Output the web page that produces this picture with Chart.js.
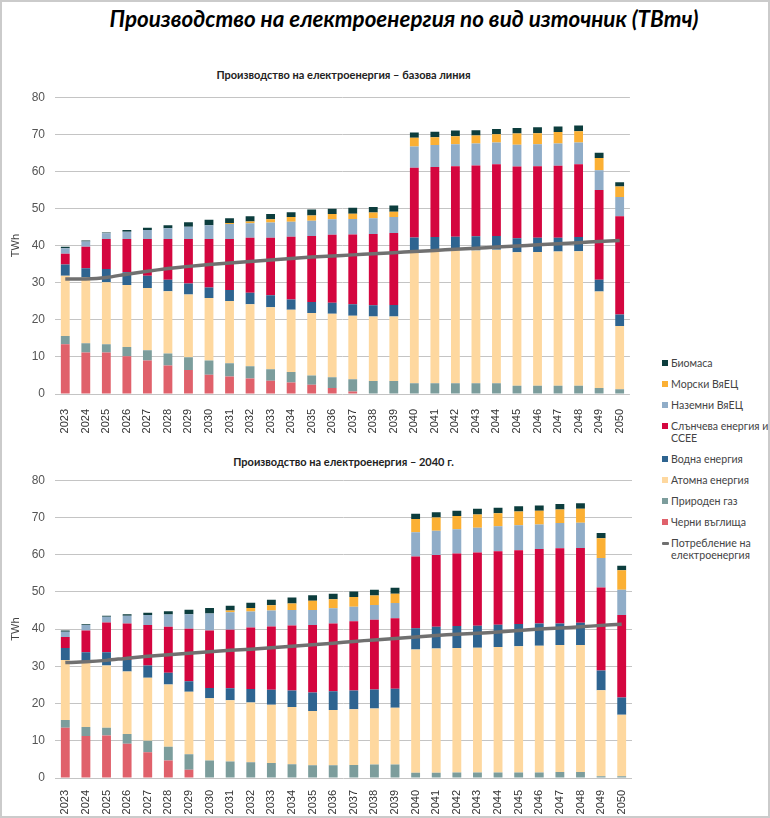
<!DOCTYPE html>
<html>
<head>
<meta charset="utf-8">
<script src="https://cdn.jsdelivr.net/npm/chart.js@4.4.1/dist/chart.umd.min.js"></script>
<style>
  html, body { margin: 0; padding: 0; background: #fff; }
  body { position: relative; width: 770px; height: 818px; overflow: hidden; font-family: Lato, "Noto Sans", sans-serif; }
  .frame { position: absolute; left: 0; top: 0; width: 770px; height: 818px; box-sizing: border-box; border: 2px solid #cbcbcb; pointer-events: none; }
  .title { position: absolute; left: 0; width: 808px; top: 5px; text-align: center; font-size: 22.4px; font-weight: bold; font-style: italic; color: #000; }
  .sub { position: absolute; left: 55px; width: 577px; text-align: center; font-size: 11px; font-weight: bold; color: #222; }
  canvas { position: absolute; left: 0; }
  .legend { position: absolute; left: 662px; top: 357px; width: 112px; font-size: 10.6px; color: #444; line-height: 12px; }
  .legend div { position: relative; padding-left: 9px; margin-bottom: 9px; }
  .legend span { position: absolute; left: 0; top: 3px; width: 6px; height: 6px; }
  .legend span.ln { top: 5px; width: 7px; height: 3px; border-radius: 1px; }
</style>
</head>
<body>
<div class="title">Производство на електроенергия по вид източник (ТВтч)</div>
<div class="sub" style="top:68px">Производство на електроенергия – базова линия</div>
<div class="sub" style="top:455px">Производство на електроенергия – 2040 г.</div>
<canvas id="chartBase" width="640" height="360" style="top:80px"></canvas>
<canvas id="chart2040" width="640" height="353" style="top:463px"></canvas>
<div class="legend" id="legend"></div>
<div class="frame"></div>
<script>
const years = [2023, 2024, 2025, 2026, 2027, 2028, 2029, 2030, 2031, 2032, 2033, 2034, 2035, 2036,
  2037, 2038, 2039, 2040, 2041, 2042, 2043, 2044, 2045, 2046, 2047, 2048, 2049, 2050];

const sourceLabels = ['Черни въглища', 'Природен газ', 'Атомна енергия', 'Водна енергия',
  'Слънчева енергия и ССЕЕ', 'Наземни ВяЕЦ', 'Морски ВяЕЦ', 'Биомаса'];
const sourceColors = ['#e0616b', '#7c9d9c', '#fed89f', '#2e6490', '#d4063f', '#90adc8', '#fbb034', '#0c3d3d'];
const consumptionLabel = 'Потребление на електроенергия';

// базова линия, TWh
const coalBase = [13.4, 11.2, 11.2, 10.2, 9.0, 7.7, 6.5, 5.2, 4.7, 4.2, 3.6, 3.1, 2.5, 1.6,
  0.7, 0, 0, 0, 0, 0, 0, 0, 0, 0, 0, 0, 0, 0];
const gasBase = [2.2, 2.5, 2.2, 2.5, 2.8, 3.2, 3.4, 3.8, 3.6, 3.3, 3.1, 2.8, 2.5, 2.9,
  3.3, 3.5, 3.5, 2.9, 2.9, 2.9, 2.9, 2.9, 2.2, 2.2, 2.2, 2.2, 1.6, 1.3];
const nuclearBase = [16.3, 17.7, 16.7, 16.7, 16.8, 16.8, 16.9, 16.9, 16.8, 16.7, 16.7, 16.8, 16.8, 17.1,
  17.1, 17.4, 17.4, 35.4, 36.1, 36.3, 35.8, 36.0, 36.0, 36.1, 36.2, 36.3, 26.0, 17.0];
const hydroBase = [3.0, 2.5, 3.6, 3.4, 3.3, 3.1, 3.0, 2.8, 2.9, 3.1, 3.2, 2.8, 3.0, 3.0,
  3.1, 3.0, 3.1, 3.9, 3.3, 3.2, 3.8, 3.7, 3.8, 3.8, 3.7, 3.8, 3.2, 3.1];
const solarBase = [2.9, 5.8, 8.1, 9.0, 9.9, 11.0, 12.0, 13.1, 13.8, 14.8, 15.5, 16.9, 17.8, 18.3,
  18.8, 19.2, 19.4, 18.8, 18.9, 19.0, 19.1, 19.3, 19.3, 19.3, 19.4, 19.6, 24.2, 26.5];
const onshoreBase = [1.5, 1.4, 1.5, 1.9, 2.4, 2.9, 3.3, 3.7, 4.0, 3.9, 4.1, 4.0, 4.1, 4.2,
  4.2, 4.3, 4.3, 5.7, 5.9, 5.9, 5.9, 5.9, 5.9, 5.9, 6.0, 5.9, 5.3, 5.2];
const offshoreBase = [0, 0, 0, 0, 0, 0, 0, 0, 0.3, 0.5, 0.9, 1.3, 1.4, 1.4,
  1.4, 1.5, 1.4, 2.4, 2.1, 2.2, 2.2, 2.2, 3.0, 3.0, 3.1, 3.0, 3.3, 2.8];
const biomassBase = [0.4, 0.3, 0.2, 0.5, 0.6, 0.8, 1.2, 1.5, 1.3, 1.4, 1.4, 1.3, 1.6, 1.4,
  1.6, 1.5, 1.7, 1.4, 1.5, 1.5, 1.4, 1.4, 1.5, 1.6, 1.5, 1.6, 1.4, 1.2];
const consumptionBase = [31.0, 31.0, 31.4, 32.3, 33.1, 33.8, 34.4, 34.9, 35.3, 35.7, 36.1, 36.5, 36.9, 37.2,
  37.5, 37.8, 38.1, 38.4, 38.7, 39.0, 39.3, 39.6, 39.9, 40.2, 40.5, 40.8, 41.1, 41.4];

// сценарий 2040 г., TWh
const coal2040 = [13.5, 11.3, 11.4, 9.2, 6.9, 4.7, 2.2, 0, 0, 0, 0, 0, 0, 0,
  0, 0, 0, 0, 0, 0, 0, 0, 0, 0, 0, 0, 0, 0];
const gas2040 = [2.1, 2.4, 2.1, 2.6, 3.1, 3.7, 4.2, 4.7, 4.4, 4.2, 4.0, 3.7, 3.4, 3.4,
  3.5, 3.6, 3.6, 1.4, 1.4, 1.5, 1.5, 1.5, 1.5, 1.5, 1.6, 1.6, 0.5, 0.5];
const nuclear2040 = [16.1, 17.6, 16.7, 16.8, 16.9, 16.7, 16.8, 16.7, 16.5, 16.1, 15.7, 15.4, 14.6, 14.9,
  15.0, 15.1, 15.3, 33.1, 33.4, 33.4, 33.5, 33.7, 33.9, 34.0, 34.1, 34.1, 23.1, 16.5];
const hydro2040 = [3.2, 2.5, 3.6, 3.1, 3.3, 3.2, 2.8, 2.8, 3.2, 3.6, 4.0, 4.4, 5.0, 5.0,
  5.0, 5.1, 5.1, 5.7, 5.8, 5.9, 5.9, 6.0, 6.0, 6.0, 5.8, 6.0, 5.3, 4.6];
const solar2040 = [3.0, 5.8, 8.0, 9.8, 10.9, 12.3, 14.1, 15.4, 15.7, 16.5, 17.0, 17.5, 18.1, 18.2,
  18.6, 18.7, 18.9, 19.3, 19.3, 19.5, 19.7, 19.7, 19.8, 20.0, 20.2, 20.1, 22.3, 22.2];
const onshore2040 = [1.4, 1.5, 1.5, 2.1, 2.7, 3.3, 3.9, 4.6, 4.7, 4.3, 4.3, 4.1, 4.0, 4.1,
  3.9, 4.0, 4.1, 6.5, 6.5, 6.5, 6.6, 6.7, 6.7, 6.6, 6.8, 6.8, 7.9, 6.8];
const offshore2040 = [0, 0, 0, 0, 0, 0, 0, 0, 0.5, 1.0, 1.4, 1.8, 2.5, 2.4,
  2.6, 2.5, 2.5, 3.6, 3.6, 3.6, 3.6, 3.5, 3.7, 3.7, 3.6, 3.7, 5.3, 5.2];
const biomass2040 = [0.3, 0.2, 0.3, 0.4, 0.6, 0.9, 1.2, 1.5, 1.3, 1.4, 1.5, 1.6, 1.5, 1.5,
  1.5, 1.6, 1.6, 1.4, 1.4, 1.4, 1.5, 1.5, 1.4, 1.4, 1.5, 1.5, 1.4, 1.2];
const consumption2040 = [31.0, 31.2, 31.6, 32.2, 32.7, 33.1, 33.5, 33.9, 34.3, 34.6, 35.0, 35.4, 35.8, 36.2,
  36.7, 37.1, 37.5, 37.9, 38.3, 38.6, 38.9, 39.2, 39.6, 40.0, 40.3, 40.6, 41.0, 41.3];

const yTicks = [0, 10, 20, 30, 40, 50, 60, 70, 80];
const lineColor = '#707070';

function drawChart(id, series, consumption, xHeight, xPad) {
  const datasets = series.map((data, i) => ({
    type: 'bar',
    label: sourceLabels[i],
    data: data,
    backgroundColor: sourceColors[i],
    stack: 'gen',
    order: 1,
    borderWidth: 0,
    barPercentage: 0.43,
    categoryPercentage: 1,
  }));
  datasets.push({
    type: 'line',
    label: consumptionLabel,
    data: consumption,
    borderColor: lineColor,
    borderWidth: 3.5,
    pointRadius: 0,
    tension: 0.25,
    stack: 'cons',
    order: 0,
  });

  new Chart(document.getElementById(id), {
    data: { labels: years, datasets: datasets },
    options: {
      responsive: false,
      animation: false,
      layout: { padding: { top: 11, right: 8, left: 9, bottom: 0 } },
      plugins: { legend: { display: false }, tooltip: { enabled: false } },
      scales: {
        x: {
          stacked: true,
          grid: { display: false },
          border: { display: false },
          ticks: { minRotation: 90, maxRotation: 90, autoSkip: false, color: '#333', font: { size: 11 }, padding: xPad },
          afterFit: s => { s.height = xHeight; },
        },
        y: {
          stacked: true,
          min: 0,
          max: 80,
          afterBuildTicks: s => { s.ticks = yTicks.map(v => ({ value: v })); },
          grid: { color: '#c4c4c4', drawTicks: false },
          border: { display: false },
          ticks: { color: '#555', font: { size: 12 }, padding: 10 },
          title: { display: true, text: 'TWh', color: '#444', font: { size: 11 }, padding: { top: 0, bottom: 4 } },
          afterFit: s => { s.width = 46; },
        },
      },
    },
  });
}

drawChart('chartBase',
  [coalBase, gasBase, nuclearBase, hydroBase, solarBase, onshoreBase, offshoreBase, biomassBase],
  consumptionBase, 46, 7);
drawChart('chart2040',
  [coal2040, gas2040, nuclear2040, hydro2040, solar2040, onshore2040, offshore2040, biomass2040],
  consumption2040, 38, 4);

// легенда: от горе надолу, в обратен ред на стековете
const legend = document.getElementById('legend');
const legendRows = sourceLabels.map((l, i) => ({ label: l, color: sourceColors[i] })).reverse();
legendRows.forEach(r => {
  const d = document.createElement('div');
  d.innerHTML = '<span style="background:' + r.color + '"></span>' + r.label;
  legend.appendChild(d);
});
const lineRow = document.createElement('div');
lineRow.innerHTML = '<span class="ln" style="background:' + lineColor + '"></span>' + consumptionLabel;
legend.appendChild(lineRow);
</script>
</body>
</html>
